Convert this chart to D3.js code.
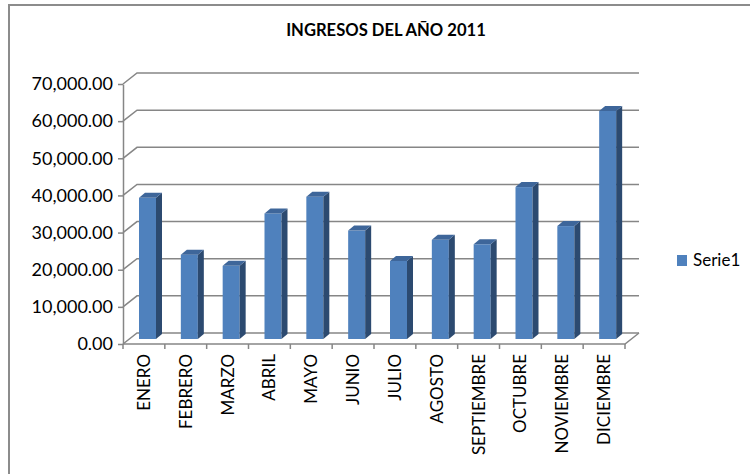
<!DOCTYPE html>
<html>
<head>
<meta charset="utf-8">
<script src="https://cdn.jsdelivr.net/npm/d3@7"></script>
<style>
  body { margin: 0; background: #fff; }
  svg text { font-family: Lato, "Open Sans", sans-serif; fill: #000; }
</style>
</head>
<body>
<svg id="chart" width="750" height="474"></svg>
<script>
const months = ["ENERO", "FEBRERO", "MARZO", "ABRIL", "MAYO", "JUNIO", "JULIO",
    "AGOSTO", "SEPTIEMBRE", "OCTUBRE", "NOVIEMBRE", "DICIEMBRE"];
const ingresos = [38000, 22700, 19700, 33800, 38300, 29200, 21000,
    26700, 25500, 40900, 30400, 61400];
const yTicks = [0, 10000, 20000, 30000, 40000, 50000, 60000, 70000];
const seriesName = "Serie1";
const title = "INGRESOS DEL AÑO 2011";

const svg = d3.select("#chart");

// chart border (only top and left edges are visible in the frame)
svg.append("path")
    .attr("d", "M9,480 V5 H760")
    .attr("fill", "none")
    .attr("stroke", "#8c8c8c")
    .attr("stroke-width", 2);

svg.append("text")
    .attr("x", 386)
    .attr("y", 36)
    .attr("text-anchor", "middle")
    .attr("font-size", 16.6)
    .attr("font-weight", "bold")
    .text(title);

// front plane of the 3D plot
const plotLeft = 123, plotRight = 625, plotBottom = 344, plotTop = 84;
const depthX = 14, depthY = -11;

const x = d3.scaleBand().domain(months).range([plotLeft, plotRight]);
const y = d3.scaleLinear().domain([0, 70000]).range([plotBottom, plotTop]);

const grid = svg.append("g").attr("stroke", "#868686").attr("stroke-width", 1.5).attr("fill", "none");

// back wall gridlines + side wall diagonals
yTicks.forEach(t => {
    const yy = y(t);
    grid.append("path")
        .attr("d", `M${plotLeft},${yy} L${plotLeft + depthX},${yy + depthY} H${plotRight + depthX}`);
});

// floor
grid.append("path")
    .attr("d", `M${plotLeft},${plotBottom} H${plotRight} L${plotRight + depthX},${plotBottom + depthY}`);

// y axis
const yAxis = svg.append("g")
    .attr("transform", `translate(${plotLeft},0)`)
    .call(d3.axisLeft(y).tickValues(yTicks).tickFormat(d3.format(",.2f")).tickSize(5).tickPadding(5).tickSizeOuter(0));
yAxis.select(".domain").attr("stroke", "#868686").attr("stroke-width", 1.5);
yAxis.selectAll(".tick line").attr("stroke", "#868686").attr("stroke-width", 1.5);
yAxis.selectAll(".tick text").attr("font-size", 18).attr("font-family", "Lato");

// x axis ticks at band edges
const edges = months.map(m => x(m)).concat([plotRight]);
svg.append("g").selectAll("line")
    .data(edges)
    .join("line")
    .attr("x1", d => d).attr("x2", d => d)
    .attr("y1", plotBottom).attr("y2", plotBottom + 5)
    .attr("stroke", "#868686").attr("stroke-width", 1.5);

// x labels
svg.append("g").selectAll("text")
    .data(months)
    .join("text")
    .attr("transform", d => `translate(${x(d) + x.bandwidth() / 2 + 6},${plotBottom + 10}) rotate(-90)`)
    .attr("text-anchor", "end")
    .attr("font-size", 17)
    .text(d => d);

// 3D bars at mid depth
const barW = 17, sideX = 6, sideY = -5;
const midX = 7, midY = -5;
const bars = svg.append("g").selectAll("g")
    .data(ingresos)
    .join("g");

bars.each(function(v, i) {
    const g = d3.select(this);
    const x0 = x(months[i]) + midX + 9;
    const x1 = x0 + barW;
    const yb = plotBottom + midY;
    const yt = y(v) + midY;
    g.append("rect")
        .attr("x", x0).attr("y", yt)
        .attr("width", barW).attr("height", yb - yt)
        .attr("fill", "#4f81bd");
    g.append("path")
        .attr("d", `M${x1},${yt} L${x1 + sideX},${yt + sideY} V${yb + sideY} L${x1},${yb} Z`)
        .attr("fill", "#2c4a70");
    g.append("path")
        .attr("d", `M${x0},${yt} L${x0 + sideX},${yt + sideY} H${x1 + sideX} L${x1},${yt} Z`)
        .attr("fill", "#3e669a");
});

// legend
svg.append("rect")
    .attr("x", 677).attr("y", 255)
    .attr("width", 10).attr("height", 11)
    .attr("fill", "#4f81bd");
svg.append("text")
    .attr("x", 693).attr("y", 266)
    .attr("font-size", 17)
    .text(seriesName);
</script>
</body>
</html>
